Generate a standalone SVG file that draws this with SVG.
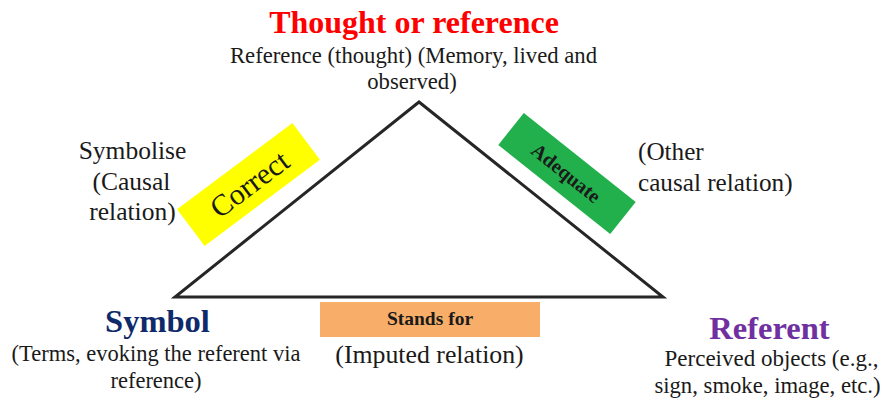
<svg xmlns="http://www.w3.org/2000/svg" width="883" height="403" viewBox="0 0 883 403">
  <style>
    .edge { fill: none; stroke: #262626; stroke-width: 3; stroke-linejoin: miter; }
  </style>
  <rect width="883" height="403" fill="#ffffff"/>

  <!-- triangle edges -->
  <g id="connectors">
    <polygon class="edge" points="419,102 175,297 663,297"/>
  </g>

  <g id="thought" font-family="Liberation Serif, Times New Roman, serif" text-anchor="middle" fill="#1a1a1a">
    <text x="414" y="33" font-size="32" font-weight="bold" fill="#ff0000">Thought or reference</text>
    <text x="413.5" y="63" font-size="22.7">Reference (thought) (Memory, lived and</text>
    <text x="412" y="89" font-size="22.7">observed)</text>
  </g>

  <g id="symbol" font-family="Liberation Serif, Times New Roman, serif" text-anchor="middle" fill="#1a1a1a">
    <text x="157.5" y="332" font-size="32.5" font-weight="bold" fill="#0f2a6b">Symbol</text>
    <text x="156" y="361" font-size="22.5">(Terms, evoking the referent via</text>
    <text x="156" y="388" font-size="22.5">reference)</text>
  </g>

  <g id="referent" font-family="Liberation Serif, Times New Roman, serif" text-anchor="middle" fill="#1a1a1a">
    <text x="769.5" y="339" font-size="32.5" font-weight="bold" fill="#7030a0">Referent</text>
    <text x="771.5" y="366" font-size="23">Perceived objects (e.g.,</text>
    <text x="767.5" y="393" font-size="22.7">sign, smoke, image, etc.)</text>
  </g>

  <g id="symbolise" font-family="Liberation Serif, Times New Roman, serif" text-anchor="middle" fill="#1a1a1a" font-size="25.5">
    <text x="132.5" y="159">Symbolise</text>
    <text x="131.5" y="190">(Causal</text>
    <text x="132.5" y="220">relation)</text>
  </g>

  <g id="correct" transform="translate(248.5,184.5) rotate(-36.8)">
    <rect x="-72" y="-23" width="144" height="46" fill="#ffff00"/>
    <text x="1" y="10.5" font-family="Liberation Serif, Times New Roman, serif" font-size="30" text-anchor="middle" fill="#1a1a1a">Correct</text>
  </g>

  <g id="adequate" transform="translate(567,173.5) rotate(38.5)">
    <rect x="-71.5" y="-20.5" width="143" height="41" fill="#22b04c"/>
    <text x="-1" y="7" font-family="Liberation Serif, Times New Roman, serif" font-size="20" font-weight="bold" text-anchor="middle" fill="#1a1a1a">Adequate</text>
  </g>

  <g id="other-causal" font-family="Liberation Serif, Times New Roman, serif" fill="#1a1a1a" font-size="25.2">
    <text x="638" y="160">(Other</text>
    <text x="638" y="191">causal relation)</text>
  </g>

  <g id="stands-for" font-family="Liberation Serif, Times New Roman, serif" text-anchor="middle" fill="#1a1a1a">
    <rect x="320" y="302" width="220" height="35" fill="#f8ad68"/>
    <text x="430" y="325" font-size="19.5" font-weight="bold">Stands for</text>
    <text x="429.5" y="363" font-size="25.8">(Imputed relation)</text>
  </g>
</svg>
